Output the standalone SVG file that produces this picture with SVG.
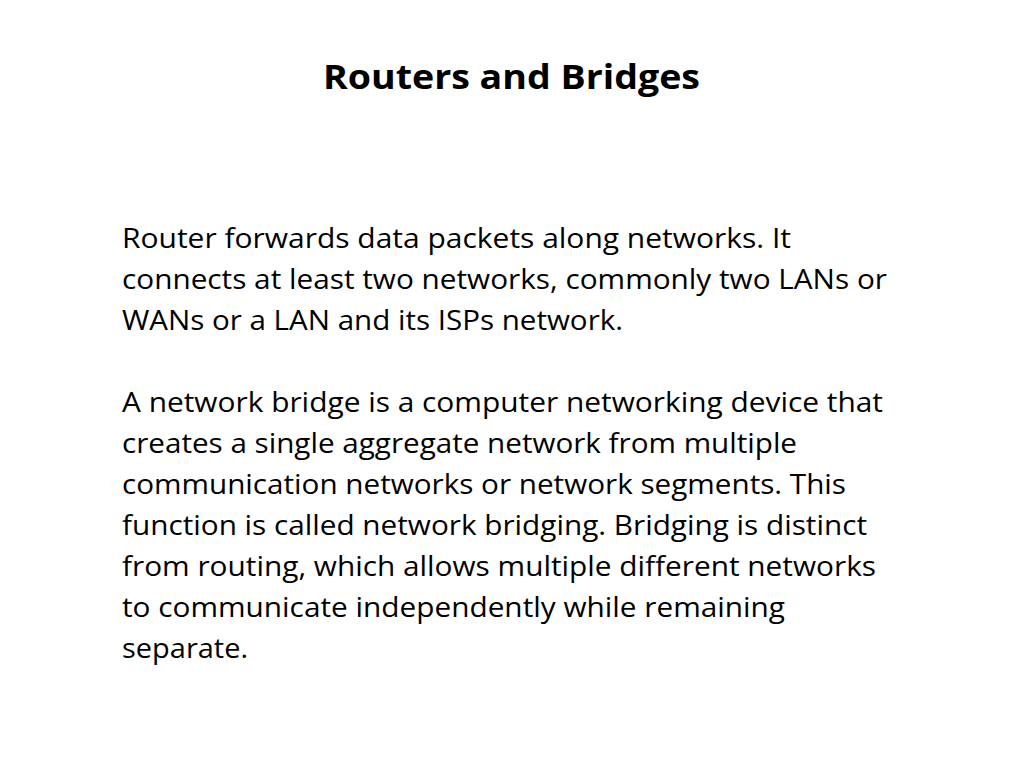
<svg xmlns="http://www.w3.org/2000/svg" width="1024" height="768" viewBox="0 0 1024 768">
<style>
.t{font-family:"Open Sans","Liberation Sans",sans-serif;font-size:27px;fill:#000}
.h{font-family:"Open Sans","Liberation Sans",sans-serif;font-size:34px;font-weight:bold;fill:#000}
</style>
<rect width="1024" height="768" fill="#fff"/>
<g id="title"><text class="h" x="323" y="89" textLength="377" lengthAdjust="spacingAndGlyphs">Routers and Bridges</text></g>
<g id="body">
<text class="t" x="122" y="248" textLength="669" lengthAdjust="spacingAndGlyphs">Router forwards data packets along networks. It</text>
<text class="t" x="122" y="289" textLength="765" lengthAdjust="spacingAndGlyphs">connects at least two networks, commonly two LANs or</text>
<text class="t" x="122" y="330" textLength="501" lengthAdjust="spacingAndGlyphs">WANs or a LAN and its ISPs network.</text>
<text class="t" x="122" y="412" textLength="761" lengthAdjust="spacingAndGlyphs">A network bridge is a computer networking device that</text>
<text class="t" x="122" y="453" textLength="675" lengthAdjust="spacingAndGlyphs">creates a single aggregate network from multiple</text>
<text class="t" x="122" y="494" textLength="724" lengthAdjust="spacingAndGlyphs">communication networks or network segments. This</text>
<text class="t" x="122" y="535" textLength="745" lengthAdjust="spacingAndGlyphs">function is called network bridging. Bridging is distinct</text>
<text class="t" x="122" y="576" textLength="754" lengthAdjust="spacingAndGlyphs">from routing, which allows multiple different networks</text>
<text class="t" x="122" y="617" textLength="663" lengthAdjust="spacingAndGlyphs">to communicate independently while remaining</text>
<text class="t" x="122" y="658" textLength="126" lengthAdjust="spacingAndGlyphs">separate.</text>
</g>
</svg>
